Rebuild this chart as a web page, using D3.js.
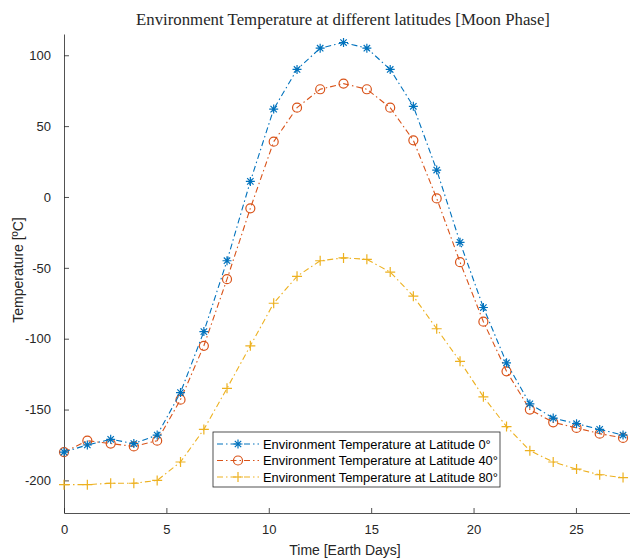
<!DOCTYPE html>
<html>
<head>
<meta charset="utf-8">
<script src="https://cdn.jsdelivr.net/npm/d3@7"></script>
<style>
  body { margin: 0; background: white; }
  svg { display: block; }
</style>
</head>
<body>
<script>
// Time in earth days
let days = [0, 1.14, 2.28, 3.41, 4.55, 5.69, 6.83, 7.96, 9.10, 10.24, 11.38, 12.51,
  13.65, 14.79, 15.93, 17.06, 18.20, 19.34, 20.48, 21.61, 22.75, 23.89, 25.03, 26.16, 27.30];

let lat0 = [-180, -175, -171, -174, -168, -138, -95, -45, 11, 62, 90, 105, 109,
  105, 90, 64, 19, -32, -78, -117, -146, -156, -160, -164, -168];
let lat40 = [-180, -172, -174, -176, -172, -143, -105, -58, -8, 39, 63, 76, 80,
  76, 63, 40, -1, -46, -88, -123, -150, -159, -163, -167, -170];
let lat80 = [-203, -203, -202, -202, -200, -187, -164, -135, -105, -75, -56, -45, -43,
  -44, -53, -70, -93, -116, -141, -162, -179, -187, -192, -196, -198];

let seriesNames = ['Environment Temperature at Latitude 0°',
  'Environment Temperature at Latitude 40°',
  'Environment Temperature at Latitude 80°'];

let xTicks = [0, 5, 10, 15, 20, 25];
let yTicks = [-200, -150, -100, -50, 0, 50, 100];

let width = 630, height = 558;
let margin = { top: 34, bottom: 45, left: 64, right: 0 };

let colors = ['#0072BD', '#D95319', '#EDB120'];
let markers = ['star', 'circle', 'plus'];
let series = [lat0, lat40, lat80];

let svg = d3.select('body').append('svg')
  .attr('width', width)
  .attr('height', height)
  .style('background', 'white');

let xScale = d3.scaleLinear()
  .domain([0, 27.64])
  .range([margin.left, width - margin.right]);

let yScale = d3.scaleLinear()
  .domain([-223, 115])
  .range([height - margin.bottom, margin.top]);

// axes, ticks pointing inward like matlab, plain hyphen for minus
let xAxis = svg.append('g')
  .attr('transform', `translate(0,${height - margin.bottom})`)
  .call(d3.axisBottom(xScale).tickValues(xTicks).tickFormat(d => String(d))
    .tickSizeInner(-5).tickSizeOuter(0).tickPadding(12));

let yAxis = svg.append('g')
  .attr('transform', `translate(${margin.left},0)`)
  .call(d3.axisLeft(yScale).tickValues(yTicks).tickFormat(d => String(d))
    .tickSizeInner(-5).tickSizeOuter(0).tickPadding(13));

svg.selectAll('.domain, .tick line').attr('stroke', '#262626').attr('stroke-width', 0.8);
svg.selectAll('.tick text')
  .style('font-family', 'Liberation Sans, Arial, sans-serif')
  .style('font-size', '13px')
  .attr('fill', '#262626');

// labels
svg.append('text')
  .attr('x', (margin.left + width) / 2 - 2)
  .attr('y', 555)
  .attr('text-anchor', 'middle')
  .style('font-family', 'Liberation Sans, Arial, sans-serif')
  .style('font-size', '14px')
  .attr('fill', '#262626')
  .text('Time [Earth Days]');

svg.append('text')
  .attr('transform', 'rotate(-90)')
  .attr('x', -270)
  .attr('y', 23)
  .attr('text-anchor', 'middle')
  .style('font-family', 'Liberation Sans, Arial, sans-serif')
  .style('font-size', '14px')
  .attr('fill', '#262626')
  .text('Temperature [ºC]');

svg.append('text')
  .attr('x', 343)
  .attr('y', 25)
  .attr('text-anchor', 'middle')
  .style('font-family', 'Liberation Serif, DejaVu Serif, serif')
  .style('font-size', '16.8px')
  .attr('fill', '#262626')
  .text('Environment Temperature at different latitudes [Moon Phase]');

// marker shapes
function drawMarker(g, type, x, y, color) {
  if (type === 'circle') {
    g.append('circle').attr('cx', x).attr('cy', y).attr('r', 4.5)
      .attr('fill', 'none').attr('stroke', color).attr('stroke-width', 1.2);
  } else if (type === 'plus') {
    g.append('path')
      .attr('d', `M${x - 5},${y}H${x + 5}M${x},${y - 5}V${y + 5}`)
      .attr('stroke', color).attr('stroke-width', 1.2);
  } else {
    let s = 4.5, d = 3.2;
    g.append('path')
      .attr('d', `M${x - s},${y}H${x + s}M${x},${y - s}V${y + s}` +
        `M${x - d},${y - d}L${x + d},${y + d}M${x - d},${y + d}L${x + d},${y - d}`)
      .attr('stroke', color).attr('stroke-width', 1.2);
  }
}

let line = d3.line()
  .x((d, i) => xScale(days[i]))
  .y(d => yScale(d));

// draw the lines, back to front
for (let k = series.length - 1; k >= 0; k--) {
  let g = svg.append('g');
  g.append('path')
    .datum(series[k])
    .attr('d', line)
    .attr('fill', 'none')
    .attr('stroke', colors[k])
    .attr('stroke-width', 1.1)
    .attr('stroke-dasharray', '6,3,1.5,3');
  series[k].forEach((v, i) => drawMarker(g, markers[k], xScale(days[i]), yScale(v), colors[k]));
}

// legend
let legend = svg.append('g');
legend.append('rect')
  .attr('x', 213).attr('y', 432)
  .attr('width', 287).attr('height', 55)
  .attr('fill', 'white')
  .attr('stroke', '#262626')
  .attr('stroke-width', 0.8);

seriesNames.forEach((name, k) => {
  let y = 444 + k * 16.5;
  legend.append('line')
    .attr('x1', 217).attr('x2', 259)
    .attr('y1', y).attr('y2', y)
    .attr('stroke', colors[k])
    .attr('stroke-width', 1.1)
    .attr('stroke-dasharray', '6,3,1.5,3');
  drawMarker(legend, markers[k], 238, y, colors[k]);
  legend.append('text')
    .attr('x', 263).attr('y', y + 4.5)
    .style('font-family', 'Liberation Sans, Arial, sans-serif')
    .style('font-size', '12.9px')
    .attr('fill', '#000')
    .text(name);
});
</script>
</body>
</html>
